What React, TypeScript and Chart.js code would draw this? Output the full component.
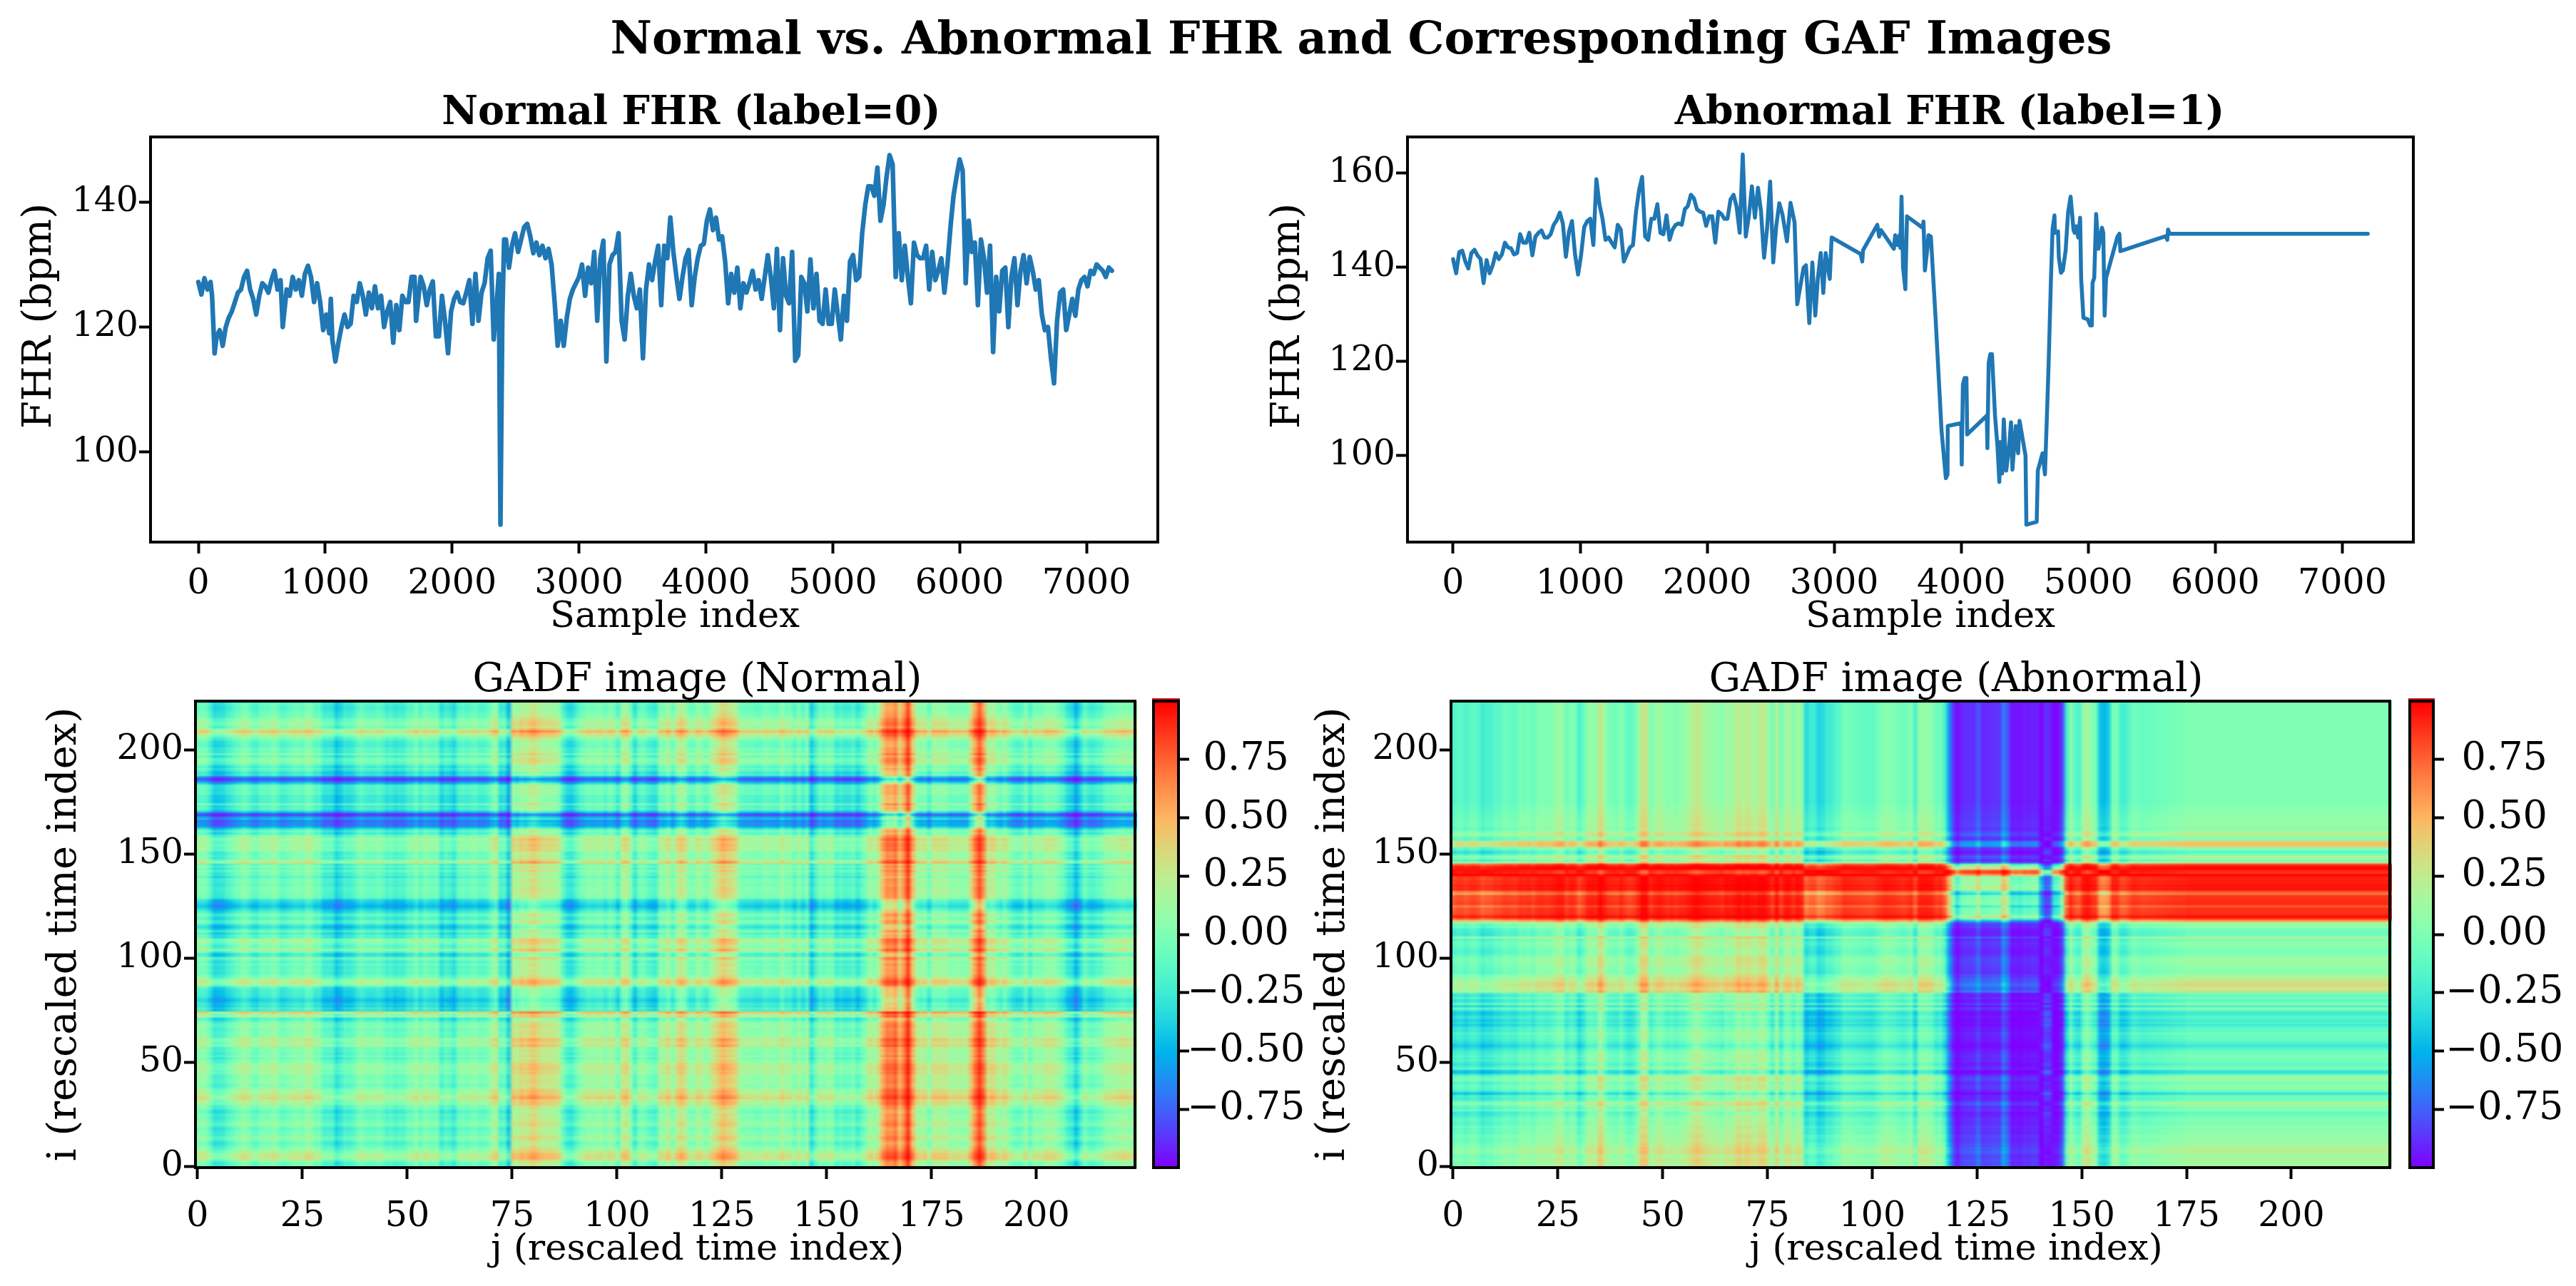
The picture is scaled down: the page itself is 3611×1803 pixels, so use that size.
import React, { useEffect, useRef } from "react";
import { Chart, registerables } from "chart.js";

Chart.register(...registerables);

const normalFhr: number[][] = [
[0,127.2],[24,125.2],[48,127.8],[72,126],[96,127.2],[108,125],[128,115.8],[144,118.5],[168,119.5],[192,117],[216,120],[240,121.5],[264,122.5],[288,124],[312,125.5],[336,126],[360,128],[384,129],[408,126],[432,124.5],[456,122],[480,125],[504,127],[528,126.5],[552,125.5],[576,127.5],[600,129],[624,126],[648,127.5],[665,120],[696,126],[720,125],[744,128],[768,126],[792,127.5],[816,125],[840,128.5],[864,129.8],[888,128],[912,124],[936,127],[960,124],[984,119.5],[1008,122],[1032,119],[1044,124.5],[1056,118],[1080,114.5],[1104,117.5],[1128,120],[1152,122],[1176,120],[1200,120.5],[1224,125],[1248,124],[1272,127],[1296,125],[1320,122],[1344,125.5],[1368,123],[1392,126.5],[1416,123],[1440,125],[1464,120],[1488,122.5],[1512,124],[1536,117.5],[1560,123.5],[1584,119.5],[1608,125],[1632,124],[1656,124],[1680,128],[1704,128],[1716,121],[1752,128],[1776,126.5],[1800,123.5],[1824,126],[1848,127.3],[1872,118.5],[1896,118.5],[1920,125],[1944,121],[1968,115.8],[1992,122.5],[2016,124.5],[2040,125.5],[2064,124],[2088,123.8],[2112,125.5],[2136,127.5],[2160,120.5],[2184,128.5],[2208,121],[2232,125.5],[2256,127],[2280,131],[2304,132.2],[2328,118],[2352,124],[2368,128.5],[2381,88.4],[2396,122],[2410,134],
[2424,134],[2448,129.5],[2472,133],[2496,135],[2520,132],[2544,134],[2568,136],[2592,136.5],[2616,134.5],[2640,131.8],[2664,133.5],[2688,131.5],[2712,133],[2736,131],[2760,132.5],[2784,130],[2808,124],[2832,117],[2856,121],[2880,117],[2904,121.5],[2928,124.5],[2952,126],[2976,127],[3000,128],[3024,130],[3048,125],[3072,129.5],[3096,127],[3120,132],[3144,121],[3168,131],[3192,133.8],[3216,114.5],[3240,130],[3264,131.5],[3288,132],[3312,135],[3336,121],[3360,118],[3384,124.8],[3408,128.5],[3432,125],[3456,123],[3480,126],[3504,115],[3528,126],[3552,130],[3576,127.5],[3600,130.5],[3624,133],[3648,123.5],[3672,133],[3696,131],[3720,137.5],[3744,132],[3768,128],[3792,124.5],[3816,128],[3840,131],[3864,132.3],[3888,123.5],[3912,128],[3936,131],[3960,133],[3984,133.3],[4008,137],[4032,138.8],[4056,135.5],[4080,137.5],[4104,134],[4128,134.5],[4152,130.5],[4176,123.8],[4200,128.5],[4224,125.5],[4248,129.5],[4272,123],[4296,127],[4320,125.5],[4344,127],[4368,129],[4392,126],[4416,127.5],[4440,124.5],[4464,128],[4488,131.5],[4512,128],[4536,123],[4560,132.5],[4584,119.5],[4608,131],[4632,125],[4656,123.8],[4680,132],[4704,114.6],[4728,115.5],[4752,128],[4776,127],[4800,122.5],[4824,130.8],[4848,123],[4872,128.5],[4896,121],
[4920,120.5],[4944,126],[4968,120.5],[4992,120.5],[5016,126],[5040,122],[5064,118],[5088,125],[5112,121],[5136,130.5],[5160,131.5],[5184,127.5],[5208,128],[5232,135],[5256,139.5],[5280,142.5],[5304,142.5],[5328,141],[5352,145.5],[5376,137],[5400,139.5],[5424,144],[5448,147.5],[5472,146],[5496,128],[5520,135],[5544,127.5],[5568,133],[5592,128],[5616,123.8],[5640,133.5],[5664,131.5],[5688,131],[5712,131],[5736,133],[5760,126],[5784,132],[5808,127.5],[5832,129],[5856,131],[5880,125.5],[5904,130],[5928,136],[5952,141],[5976,144],[6000,146.8],[6024,145],[6048,127],[6072,137],[6096,132],[6120,133.5],[6144,123.5],[6168,134],[6192,131],[6216,125.5],[6240,133],[6264,116],[6288,128],[6312,122.5],[6336,129],[6360,129.5],[6384,120],[6408,128],[6432,131],[6456,123.5],[6480,129],[6504,131.5],[6528,127],[6552,131.2],[6576,129],[6600,126],[6624,127.5],[6648,122],[6672,119.5],[6696,120],[6720,115],[6744,111],[6768,121],[6792,125.5],[6816,126],[6840,119.5],[6864,122],[6888,124.5],[6912,121.8],[6936,126],[6960,127.5],[6984,128],[7008,126.5],[7032,129],[7056,128.5],[7080,130],[7104,129.5],[7128,129],[7152,128],[7176,129.5],[7200,129],
];

const abnormalFhr: number[][] = [
[0,141.7],[24,138.7],[48,143.2],[72,143.5],[96,141.2],[120,139.7],[144,143],[168,143.7],[192,142.5],[216,141.7],[240,136.6],[264,141.5],[288,138.7],[312,140.4],[336,143],[360,141.7],[384,142.7],[408,145.2],[432,144.2],[456,144],[480,142.7],[504,143],[528,147],[552,145.2],[576,145.2],[600,147.3],[624,142.5],[648,146.5],[672,147.3],[696,147.8],[720,146.3],[744,146.3],[768,147],[792,149],[816,150],[840,151.6],[864,149.3],[888,142.2],[912,147.5],[936,149.8],[960,142.7],[984,138.4],[1008,142.7],[1032,148.5],[1056,149.8],[1080,150.3],[1104,144.7],[1128,158.7],[1152,153.4],[1176,150.3],[1200,145.8],[1224,146.3],[1248,145.2],[1272,144.2],[1296,149],[1320,148],[1344,141.2],[1368,142.7],[1392,144.2],[1416,144.7],[1440,151.8],[1464,156.4],[1488,159.2],[1512,146.5],[1536,145.8],[1560,150.3],[1584,150.3],[1608,153.4],[1632,147.3],[1656,147],[1680,151],[1704,145.8],[1728,148],[1752,149],[1776,149.3],[1800,149],[1824,152.3],[1848,153],[1872,155.4],[1896,154.6],[1920,152.3],[1944,151.8],[1968,151.6],[1992,148.8],[2016,150.8],[2040,150.8],[2064,145.2],[2088,151.8],[2112,151.3],[2136,150.3],[2160,150.3],[2184,154.4],[2208,155.4],[2232,152.8],[2256,147.3],[2280,164],[2304,146.5],[2328,150.8],[2352,157.2],[2376,150.5],[2400,156.9],[2424,151.8],[2448,142],[2472,148.3],[2496,158.2],[2520,141],[2544,148.8],[2568,153.6],[2592,151.3],[2628,145.5],[2656,153.7],[2688,149.5],
[2709,132.1],[2759,139.9],[2778,140.4],[2804,128.1],[2828,141],[2851,129.7],[2871,137.5],[2894,143],[2914,134.5],[2933,143],[2965,137.5],[2980,146.3],[3208,142.8],[3221,141.2],[3227,143.6],[3339,149],[3354,146.5],[3368,147.9],[3470,143.9],[3480,146.8],[3499,144.7],[3514,146.8],[3521,144.1],[3530,155],[3542,139.9],[3560,135.3],[3573,150.8],[3695,148.4],[3703,149.7],[3714,139.3],[3734,144.1],[3742,146.8],[3761,146.5],[3798,129.2],[3845,105.2],[3879,95.1],[3892,95.9],[3894,106.2],[4000,106.8],[4004,98],[4013,115],[4026,116.4],[4041,116.4],[4047,104.4],[4201,108.4],[4206,101.5],[4216,119.6],[4229,121.5],[4242,121.5],[4266,108.4],[4285,102],[4300,94.3],[4307,102.8],[4322,96.1],[4335,107.6],[4354,96.7],[4375,101.2],[4392,107],[4403,96.9],[4429,106.2],[4448,100.4],[4459,107.3],[4506,99.9],[4513,85.2],[4594,85.8],[4603,96.7],[4640,100.4],[4659,95.9],[4687,118.5],[4706,137.2],[4719,148.1],[4734,151],[4738,147.3],[4762,147.6],[4768,142.2],[4785,138.8],[4800,139.3],[4822,143.6],[4841,151.6],[4861,155],[4884,147.9],[4893,147.3],[4906,148.7],[4921,146.3],[4936,150.5],[4944,137.5],[4962,129.2],[4996,128.9],[5015,127.6],[5028,127.6],[5034,136.7],[5047,137.7],[5062,151.3],[5080,143.9],[5108,148.4],[5118,147.3],[5129,129.7],[5140,137.7],[5230,146.5],[5245,147.1],[5253,143.4],[5408,144.8],[5610,146.6],[5622,145.8],[5628,148],[5640,147.1],[7200,147.1],
];

const sampleTicks = [0, 1000, 2000, 3000, 4000, 5000, 6000, 7000];
const normalBpmTicks = [100, 120, 140];
const abnormalBpmTicks = [100, 120, 140, 160];
const gadfXTicks = [0, 25, 50, 75, 100, 125, 150, 175, 200];
const gadfYTicks = [0, 50, 100, 150, 200];
const colorbarTicks = [-0.75, -0.5, -0.25, 0, 0.25, 0.5, 0.75];
const gadfSize = 224;
const lineColor = "#1f77b4";
const SERIF = '"DejaVu Serif", serif';

function rainbow(v: number): number[] {
  const x = Math.min(1, Math.max(0, (v + 1) / 2));
  return [
    Math.min(1, Math.abs(2 * x - 0.5)) * 255,
    Math.sin(Math.PI * x) * 255,
    Math.cos((Math.PI * x) / 2) * 255,
  ];
}

// Gramian angular difference field of the piecewise-averaged read series,
// rescaled by the full range of the series
function gadfCells(points: number[][]) {
  const total = 7200;
  const bins: number[] = [];
  let k = 0;
  for (let b = 0; b < gadfSize; b++) {
    const s0 = Math.floor((b * total) / gadfSize);
    const s1 = Math.floor(((b + 1) * total) / gadfSize);
    let sum = 0;
    for (let s = s0; s < s1; s++) {
      while (k < points.length - 2 && points[k + 1][0] <= s) k++;
      const [xa, ya] = points[k];
      const [xb, yb] = points[k + 1];
      sum += ya + ((yb - ya) * (s - xa)) / (xb - xa);
    }
    bins.push(sum / (s1 - s0));
  }
  const values = points.map((p) => p[1]);
  const lo = Math.min(...values);
  const hi = Math.max(...values);
  const phi = bins.map((b) => Math.acos(Math.max(-1, Math.min(1, (2 * (b - lo)) / (hi - lo) - 1))));
  const cells: { x: number; y: number; v: number }[] = [];
  for (let i = 0; i < gadfSize; i++)
    for (let j = 0; j < gadfSize; j++) cells.push({ x: j, y: i, v: Math.sin(phi[i] - phi[j]) });
  return cells;
}

const framePlugin = {
  id: "frame",
  afterDraw(chart: any) {
    const { ctx, chartArea: a } = chart;
    ctx.save();
    ctx.strokeStyle = "#000";
    ctx.lineWidth = 4;
    ctx.strokeRect(a.left, a.top, a.right - a.left, a.bottom - a.top);
    ctx.restore();
  },
};

const heatPlugin = {
  id: "heat",
  beforeDatasetsDraw(chart: any) {
    const cells = chart.data.datasets[0].data;
    const off = document.createElement("canvas");
    off.width = gadfSize;
    off.height = gadfSize;
    const oc = off.getContext("2d")!;
    const img = oc.createImageData(gadfSize, gadfSize);
    for (const c of cells) {
      const [r, g, b] = rainbow(c.v);
      const p = ((gadfSize - 1 - c.y) * gadfSize + c.x) * 4;
      img.data[p] = r;
      img.data[p + 1] = g;
      img.data[p + 2] = b;
      img.data[p + 3] = 255;
    }
    oc.putImageData(img, 0, 0);
    const { ctx, scales } = chart;
    const x0 = scales.x.getPixelForValue(-0.5);
    const x1 = scales.x.getPixelForValue(gadfSize - 0.5);
    const y0 = scales.y.getPixelForValue(gadfSize - 0.5);
    const y1 = scales.y.getPixelForValue(-0.5);
    ctx.save();
    ctx.imageSmoothingEnabled = true;
    ctx.imageSmoothingQuality = "low";
    ctx.drawImage(off, x0, y0, x1 - x0 + 3, y1 - y0);
    ctx.restore();
  },
};

const colorbarPlugin = {
  id: "cbar",
  beforeDatasetsDraw(chart: any) {
    const { ctx, chartArea: a, scales } = chart;
    ctx.save();
    const y0 = Math.floor(a.top);
    const y1 = Math.ceil(a.bottom);
    for (let y = y0; y < y1; y++) {
      const v = scales.y.getValueForPixel(y + 0.5);
      const lv = (Math.round(((v + 1) / 2) * 255) / 255) * 2 - 1;
      const [r, g, b] = rainbow(lv);
      ctx.fillStyle = `rgb(${r | 0},${g | 0},${b | 0})`;
      ctx.fillRect(a.left, y, a.right - a.left, 1);
    }
    ctx.fillStyle = "#d01018";
    ctx.fillRect(a.left - 2, a.top - 4, a.right - a.left + 4, 3);
    ctx.restore();
  },
};

// The reference's titles and axis labels sit off the centre of their axes
function shiftTitle(s: any, dx: number, dy: number) {
  if (s.__shifted) return;
  s.__shifted = true;
  const draw = s.drawTitle.bind(s);
  s.drawTitle = (...args: any[]) => {
    const c = s.ctx;
    c.save();
    c.translate(dx, dy);
    draw(...args);
    c.restore();
  };
}

const titleShiftPlugin = {
  id: "titleShift",
  beforeDraw(chart: any, _a: any, opts: any) {
    const t = chart.titleBlock;
    if (!t || t.__shifted) return;
    t.__shifted = true;
    const draw = t.draw.bind(t);
    t.draw = (...args: any[]) => {
      chart.ctx.save();
      chart.ctx.translate(opts.dx, 0);
      draw(...args);
      chart.ctx.restore();
    };
  },
};

type Box = { L: number; T: number; R: number; B: number };

function axisCommon(size: number, pad: number, tickLen: number, tickList: number[], fmt: (v: number) => string, crossAlign = "near") {
  return {
    border: { display: true, color: "#000", width: 4 },
    grid: { drawOnChartArea: false, drawTicks: true, tickLength: tickLen, tickWidth: 4, tickColor: "#000" },
    ticks: {
      color: "#000",
      font: { family: SERIF, size },
      padding: pad,
      crossAlign,
      includeBounds: false,
      maxRotation: 0,
      autoSkip: false,
      callback: (v: number) => fmt(v),
    },
    afterBuildTicks: (s: any) => {
      s.ticks = tickList.map((value) => ({ value }));
    },
  };
}

function panelOptions(
  box: Box,
  cv: Box,
  title: string,
  titleBold: boolean,
  titleSize: number,
  titleCy: number,
  titleDx: number,
  xr: number[],
  yr: number[],
  xTicks: number[],
  yTicks: number[],
  xLabel: string,
  yLabel: string,
  tickSize: number,
  xPad: number,
  xTitleSize: number,
  xTitleDx: number,
  yTitleSize: number,
  yTitleDy: number
) {
  const titleBlock = box.T - cv.T;
  const titleBottomPad = box.T - titleCy - (titleSize * 1.2) / 2;
  return {
    responsive: false,
    animation: false as const,
    devicePixelRatio: 1,
    events: [],
    layout: {
      autoPadding: false,
      padding: { left: 0, right: cv.R - box.R, top: titleBlock - titleSize * 1.2 - titleBottomPad, bottom: 0 },
    },
    plugins: {
      legend: { display: false },
      tooltip: { enabled: false },
      titleShift: { dx: titleDx },
      title: {
        display: true,
        text: title,
        color: "#000",
        fullSize: false,
        font: { family: SERIF, size: titleSize, weight: titleBold ? "bold" : "normal", lineHeight: 1.2 },
        padding: { top: 0, bottom: titleBottomPad },
      },
    },
    scales: {
      x: {
        type: "linear",
        min: xr[0],
        max: xr[1],
        ...axisCommon(tickSize, xPad, 16, xTicks, String),
        title: { display: true, text: xLabel, color: "#000", font: { family: SERIF, size: xTitleSize, lineHeight: 1.2 }, padding: 0 },
        afterFit: (s: any) => {
          s.height = cv.B - box.B;
          shiftTitle(s, xTitleDx, 0);
        },
      },
      y: {
        type: "linear",
        min: yr[0],
        max: yr[1],
        ...axisCommon(tickSize, 1, 16, yTicks, String),
        title: { display: true, text: yLabel, color: "#000", font: { family: SERIF, size: yTitleSize, lineHeight: 1.2 }, padding: 0 },
        afterFit: (s: any) => {
          s.width = box.L - cv.L;
          shiftTitle(s, 0, yTitleDy);
        },
      },
    },
  };
}

function Panel({ make, cv }: { make: () => any; cv: Box }) {
  const ref = useRef<HTMLCanvasElement>(null);
  useEffect(() => {
    const chart = new Chart(ref.current!, make());
    return () => chart.destroy();
  }, []);
  return (
    <canvas
      ref={ref}
      width={cv.R - cv.L}
      height={cv.B - cv.T}
      style={{ position: "absolute", left: cv.L, top: cv.T, width: cv.R - cv.L, height: cv.B - cv.T }}
    />
  );
}

const lineCfg = (points: number[][], width: number, opts: any) => ({
  type: "scatter",
  data: {
    datasets: [
      {
        data: points.map(([x, y]) => ({ x, y })),
        showLine: true,
        borderColor: lineColor,
        borderWidth: width,
        pointRadius: 0,
        tension: 0,
        borderJoinStyle: "round",
        borderCapStyle: "round",
      },
    ],
  },
  options: opts,
  plugins: [framePlugin, titleShiftPlugin],
});

const heatCfg = (points: number[][], opts: any) => ({
  type: "scatter",
  data: { datasets: [{ data: gadfCells(points), pointRadius: 0, showLine: false, parsing: false, normalized: true }] },
  options: opts,
  plugins: [heatPlugin, framePlugin, titleShiftPlugin],
});

const cbarCfg = (box: Box, cv: Box, pad: number) => ({
  type: "scatter",
  data: { datasets: [{ data: [] as any[] }] },
  options: {
    responsive: false,
    animation: false,
    devicePixelRatio: 1,
    events: [],
    layout: { autoPadding: false, padding: { left: box.L - cv.L, right: 0, top: box.T - cv.T, bottom: cv.B - box.B } },
    plugins: { legend: { display: false }, tooltip: { enabled: false } },
    scales: {
      x: { type: "linear", display: false, min: 0, max: 1 },
      y: {
        type: "linear",
        position: "right",
        min: -1,
        max: 1,
        ...axisCommon(54, pad, 15, colorbarTicks, (v) => v.toFixed(2).replace("-", "\u2212"), "center"),
        afterFit: (s: any) => {
          s.width = cv.R - box.R;
          s.paddingTop = 0;
          s.paddingBottom = 0;
        },
      },
    },
  },
  plugins: [colorbarPlugin, framePlugin],
});

const P1: Box = { L: 211, T: 192, R: 1623, B: 760 };
const C1: Box = { L: 23, T: 115, R: 1640, B: 896 };
const P2: Box = { L: 1973, T: 192, R: 3383, B: 760 };
const C2: Box = { L: 1773, T: 115, R: 3400, B: 896 };
const P3: Box = { L: 274, T: 983, R: 1591, B: 1637 };
const C3: Box = { L: 58, T: 915, R: 1600, B: 1783 };
const P4: Box = { L: 2034, T: 983, R: 3350, B: 1637 };
const C4: Box = { L: 1836, T: 915, R: 3360, B: 1783 };
const B1: Box = { L: 1617, T: 983, R: 1652, B: 1637 };
const CB1: Box = { L: 1612, T: 970, R: 1850, B: 1660 };
const B2: Box = { L: 3378, T: 983, R: 3411, B: 1637 };
const CB2: Box = { L: 3372, T: 970, R: 3610, B: 1660 };

export default function App() {
  return (
    <div style={{ position: "absolute", left: 0, top: 0, width: 3611, height: 1803, overflow: "hidden", background: "#fff" }}>
      <div
        style={{
          position: "absolute",
          left: 0,
          width: 3816,
          top: 18,
          textAlign: "center",
          fontFamily: SERIF,
          fontWeight: "bold",
          fontSize: 64,
          lineHeight: "70px",
          color: "#000",
        }}
      >
        Normal vs. Abnormal FHR and Corresponding GAF Images
      </div>
      <Panel
        cv={C1}
        make={() =>
          lineCfg(
            normalFhr,
            6.5,
            panelOptions(P1, C1, "Normal FHR (label=0)", true, 55.5, 160, 52, [-377, 7562], [85.6, 150.4], sampleTicks, normalBpmTicks, "Sample index", "FHR (bpm)", 49, 14, 51, 29, 56, -33)
          )
        }
      />
      <Panel
        cv={C2}
        make={() =>
          lineCfg(
            abnormalFhr,
            5.5,
            panelOptions(P2, C2, "Abnormal FHR (label=1)", true, 55.5, 160, 55, [-359, 7559], [81.5, 167.7], sampleTicks, abnormalBpmTicks, "Sample index", "FHR (bpm)", 49, 14, 51, 28, 56, -33)
          )
        }
      />
      <Panel
        cv={C3}
        make={() =>
          heatCfg(
            normalFhr,
            panelOptions(P3, C3, "GADF image (Normal)", false, 55.5, 955, 45, [-0.5, 223.5], [-0.5, 223.5], gadfXTicks, gadfYTicks, "j (rescaled time index)", "i (rescaled time index)", 49, 24, 51, 45, 56, 0)
          )
        }
      />
      <Panel
        cv={C4}
        make={() =>
          heatCfg(
            abnormalFhr,
            panelOptions(P4, C4, "GADF image (Abnormal)", false, 55.5, 955, 50, [-0.5, 223.5], [-0.5, 223.5], gadfXTicks, gadfYTicks, "j (rescaled time index)", "i (rescaled time index)", 49, 24, 51, 50, 56, 0)
          )
        }
      />
      <Panel cv={CB1} make={() => cbarCfg(B1, CB1, -3)} />
      <Panel cv={CB2} make={() => cbarCfg(B2, CB2, 2)} />
    </div>
  );
}
